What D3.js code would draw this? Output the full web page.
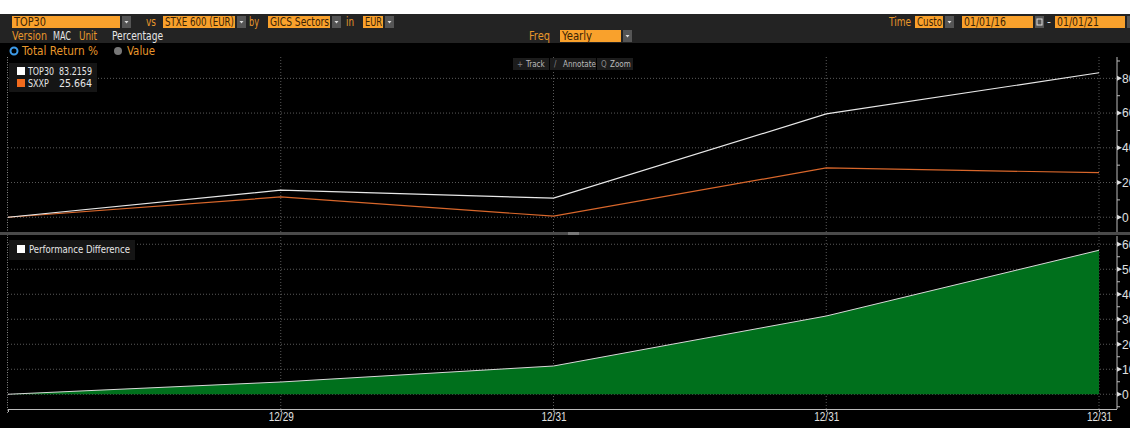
<!DOCTYPE html>
<html>
<head>
<meta charset="utf-8">
<script src="https://cdn.jsdelivr.net/npm/d3@7"></script>
<style>
  body { margin: 0; background: #000; }
  svg { display: block; font-family: "Liberation Sans Narrow", "DejaVu Sans Condensed", "Liberation Sans", sans-serif; }
</style>
</head>
<body>
<div id="chart"></div>
<script>
// data
const periods = ['2016-01-01', '2016-12-29', '2017-12-31', '2018-12-31', '2019-12-31'];
const tickLabels = ['', '12/29', '12/31', '12/31', '12/31'];
const top30 = [0, 15.6, 11.0, 59.5, 83.2159];
const sxxp = [0, 11.7, 0.6, 28.4, 25.664];
const perfDiff = [0, 4.9, 11.3, 31.3, 57.6];
const topTicks = [0, 20, 40, 60, 80];
const bottomTicks = [0, 10, 20, 30, 40, 50, 60];

const W = 1130, H = 428;
const ORANGE = '#f9a12c';
const AMBER = '#e8972b';
const GRID = '#5a5a5a';

const svg = d3.select('#chart').append('svg')
    .attr('width', W).attr('height', H);

svg.append('rect').attr('width', W).attr('height', H).attr('fill', '#000');
svg.append('rect').attr('width', W).attr('height', 14).attr('fill', '#fff');
svg.append('rect').attr('y', 14).attr('width', W).attr('height', 29).attr('fill', '#232323');

// squeeze a text into the width it has in the reference
function fit(t, w) {
    if (w && t.node().getComputedTextLength() > w) {
        t.attr('textLength', w).attr('lengthAdjust', 'spacingAndGlyphs');
    }
    return t;
}

// ---- header controls
function field(x, y, w, label, dd, tw) {
    svg.append('rect').attr('x', x).attr('y', y).attr('width', w).attr('height', 12).attr('fill', ORANGE);
    fit(svg.append('text').attr('x', x + 2).attr('y', y + 10).attr('font-size', 12)
        .attr('fill', '#3a2205').text(label), tw);
    if (dd) {
        svg.append('rect').attr('x', x + w + 2).attr('y', y).attr('width', 9).attr('height', 12).attr('fill', '#555');
        svg.append('path').attr('d', `M${x + w + 4.5},${y + 5}h4l-2,2.5z`).attr('fill', '#ddd');
    }
}
function label(x, y, t, c, tw) {
    fit(svg.append('text').attr('x', x).attr('y', y).attr('font-size', 12).attr('fill', c || AMBER).text(t), tw);
}

field(12, 16, 108, 'TOP30', true, 32);
label(146, 26, 'vs', null, 10);
field(163, 16, 72, 'STXE 600 (EUR)', true, 69);
label(249, 26, 'by', null, 10);
field(268, 16, 62, 'GICS Sectors', true, 59);
label(346, 26, 'in', null, 8);
field(363, 16, 20, 'EUR', true, 17);

label(889, 26, 'Time', null, 22);
field(915, 16, 28, 'Custo', true, 25);
field(962, 16, 71, '01/01/16', false, 42);
svg.append('rect').attr('x', 1035).attr('y', 16).attr('width', 9).attr('height', 12).attr('fill', '#555');
svg.append('rect').attr('x', 1037).attr('y', 19).attr('width', 5).attr('height', 6).attr('fill', 'none').attr('stroke', '#ddd');
label(1047, 26, '-', '#ddd');
field(1055, 16, 70, '01/01/21', false, 42);
svg.append('rect').attr('x', 1127).attr('y', 16).attr('width', 9).attr('height', 12).attr('fill', '#555');

label(12, 40, 'Version', null, 35);
label(53, 40, 'MAC', '#e6e6e6', 18);
label(79, 40, 'Unit', null, 18);
label(112, 40, 'Percentage', '#e6e6e6', 51);
label(529, 40, 'Freq', null, 21);
field(560, 30, 61, 'Yearly', true, 30);

svg.append('circle').attr('cx', 14).attr('cy', 51).attr('r', 3.5)
    .attr('fill', 'none').attr('stroke', '#3d9be9').attr('stroke-width', 2);
label(22, 55, 'Total Return %', null, 76);
svg.append('circle').attr('cx', 118).attr('cy', 51).attr('r', 4).attr('fill', '#777');
label(127, 55, 'Value', null, 28);

// ---- scales
const x = d3.scalePoint().domain(periods).range([8, 1099]);
const axisX = 1117;
const yTop = d3.scaleLinear().domain([-8.5, 92.3]).range([232, 57]);
const yBot = d3.scaleLinear().domain([-5.9, 63.3]).range([409, 236]);

// ---- grids
function hGrid(scale, ticks) {
    svg.append('g').selectAll('line').data(ticks).join('line')
        .attr('x1', 8).attr('x2', axisX)
        .attr('y1', d => scale(d)).attr('y2', d => scale(d))
        .attr('stroke', GRID).attr('stroke-dasharray', '1,2');
}
hGrid(yTop, topTicks);
hGrid(yBot, bottomTicks);

svg.append('g').selectAll('line').data(periods.slice(1)).join('line')
    .attr('x1', d => x(d)).attr('x2', d => x(d))
    .attr('y1', 57).attr('y2', 413)
    .attr('stroke', GRID).attr('stroke-dasharray', '1,2');
svg.append('line').attr('x1', 7.5).attr('x2', 7.5).attr('y1', 57).attr('y2', 413)
    .attr('stroke', '#888').attr('stroke-dasharray', '1,1.5');

// ---- top panel lines
const lineTop = d3.line().x((d, i) => x(periods[i])).y(d => yTop(d));
svg.append('path').datum(sxxp).attr('d', lineTop)
    .attr('fill', 'none').attr('stroke', '#d9672b').attr('stroke-width', 1.2);
svg.append('path').datum(top30).attr('d', lineTop)
    .attr('fill', 'none').attr('stroke', '#e8e8e8').attr('stroke-width', 1.2);

// ---- bottom panel area
const area = d3.area().x((d, i) => x(periods[i])).y0(yBot(0)).y1(d => yBot(d));
svg.append('path').datum(perfDiff).attr('d', area).attr('fill', '#00701c');
svg.append('path').datum(perfDiff)
    .attr('d', d3.line().x((d, i) => x(periods[i])).y(d => yBot(d)))
    .attr('fill', 'none').attr('stroke', '#d8d8d8').attr('stroke-width', 1);

// ---- separator
svg.append('rect').attr('x', 0).attr('y', 232).attr('width', W).attr('height', 3).attr('fill', '#4a4a4a');
svg.append('rect').attr('x', 568).attr('y', 232).attr('width', 11).attr('height', 3).attr('fill', '#777');

// ---- right axes
function rightAxis(scale, ticks, step, y0, y1) {
    const g = svg.append('g').attr('transform', `translate(${axisX},0)`);
    g.append('line').attr('y1', y0).attr('y2', y1).attr('stroke', '#bbb');
    const minor = d3.range(ticks[0] - step / 2, ticks[ticks.length - 1] + step, step)
        .filter(v => scale(v) > y0 && scale(v) < y1);
    g.selectAll('.minor').data(minor).join('line').attr('class', 'minor')
        .attr('x1', 0).attr('x2', 3).attr('y1', d => scale(d)).attr('y2', d => scale(d))
        .attr('stroke', '#bbb');
    g.selectAll('.tri').data(ticks).join('path').attr('class', 'tri')
        .attr('d', d => `M0,${scale(d) - 2.5}L5,${scale(d)}L0,${scale(d) + 2.5}z`)
        .attr('fill', '#ddd');
    g.call(d3.axisRight(scale).tickValues(ticks).tickSize(0).tickPadding(5))
        .call(a => a.select('.domain').remove())
        .call(a => a.selectAll('text').attr('fill', '#e0e0e0')
            .attr('font-size', 12).attr('font-family', 'inherit'));
}
rightAxis(yTop, topTicks, 20, 57, 232);
rightAxis(yBot, bottomTicks, 10, 236, 409);

// ---- bottom x axis
const xAxis = svg.append('g').attr('transform', 'translate(0,409)')
    .call(d3.axisBottom(x).tickFormat((d, i) => tickLabels[i]).tickSize(3).tickPadding(0));
xAxis.select('.domain').attr('stroke', '#bbb').attr('d', `M8,0.5H${axisX}`);
xAxis.selectAll('line').attr('stroke', '#bbb');
xAxis.selectAll('text').attr('fill', '#e0e0e0').attr('font-size', 12).attr('font-family', 'inherit')
    .each(function () { fit(d3.select(this), 25); });

// ---- legends
const lg = svg.append('g');
lg.append('rect').attr('x', 9).attr('y', 63).attr('width', 88).attr('height', 29).attr('fill', '#151515');
[['#ffffff', 'TOP30', '83.2159', 72], ['#f26b1d', 'SXXP', '25.664', 84]].forEach(r => {
    lg.append('rect').attr('x', 17).attr('y', r[3] - 5).attr('width', 8).attr('height', 8).attr('fill', r[0]);
    fit(lg.append('text').attr('x', 28).attr('y', r[3] + 3).attr('font-size', 11).attr('fill', '#e6e6e6').text(r[1]), r[1].length * 5.2);
    fit(lg.append('text').attr('x', 59).attr('y', r[3] + 3).attr('font-size', 11).attr('fill', '#e6e6e6').text(r[2]), 33);
});
lg.append('rect').attr('x', 9).attr('y', 240).attr('width', 126).attr('height', 20).attr('fill', '#151515');
lg.append('rect').attr('x', 17).attr('y', 245).attr('width', 8).attr('height', 8).attr('fill', '#fff');
fit(lg.append('text').attr('x', 29).attr('y', 253).attr('font-size', 11).attr('fill', '#e6e6e6')
    .text('Performance Difference'), 101);

// ---- chart toolbar
const tb = svg.append('g').attr('font-size', 8).attr('fill', '#bbb');
[['Track', 513, 36, '+'], ['Annotate', 550, 46, '/'], ['Zoom', 597, 36, 'Q']].forEach(b => {
    tb.append('rect').attr('x', b[1]).attr('y', 58).attr('width', b[2]).attr('height', 12).attr('fill', '#1c1c1c');
    tb.append('text').attr('x', b[1] + 4).attr('y', 67).attr('fill', '#888').text(b[3]);
    tb.append('text').attr('x', b[1] + 13).attr('y', 67).text(b[0]);
});
</script>
</body>
</html>
